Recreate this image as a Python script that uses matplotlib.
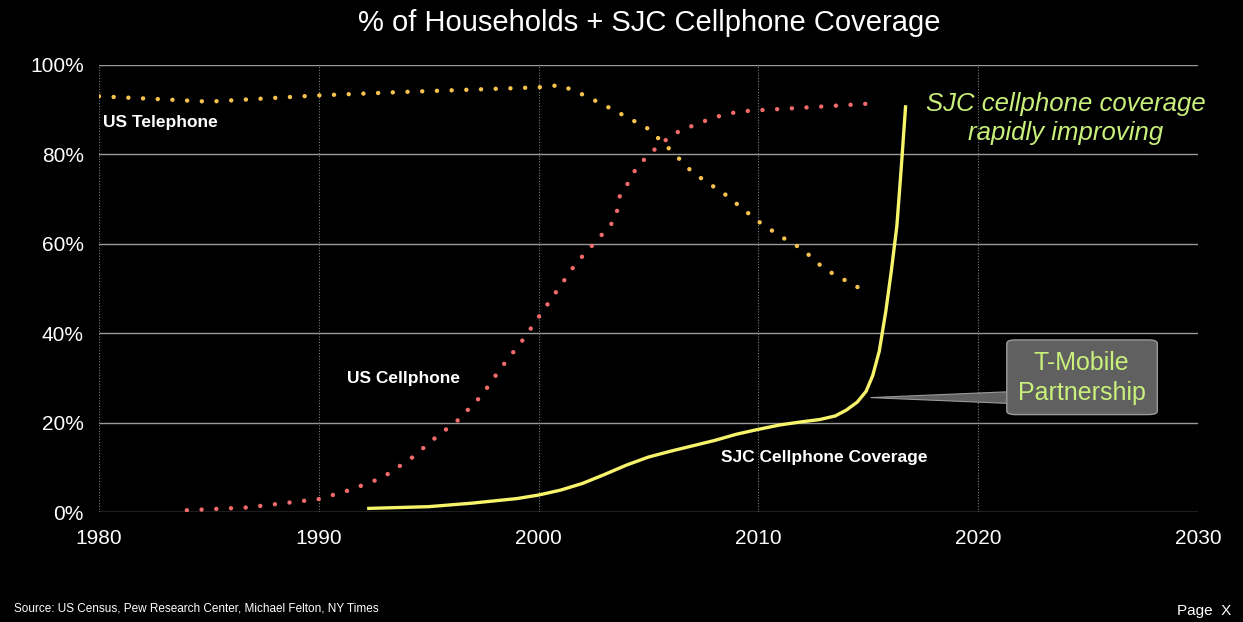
import matplotlib
matplotlib.use("Agg")
import matplotlib.pyplot as plt
from matplotlib.patches import FancyBboxPatch, Polygon

plt.rcParams['font.family'] = ['Liberation Sans', 'DejaVu Sans']

# US landline telephone households (%)
tel_years = [1980, 1983, 1985, 1990, 1994, 2000, 2001, 2002, 2003, 2004, 2005,
             2006, 2007, 2008.5, 2010, 2011, 2012, 2013, 2014, 2015]
tel_pct = [93, 92.3, 91.8, 93.2, 94, 95, 95.5, 93.4, 91, 88.4, 85.7,
           81, 76, 71, 65, 61.7, 58.8, 54.4, 51.7, 49]

# US cellphone households (%)
cell_years = [1984, 1986.7, 1988.8, 1990, 1991.4, 1992.9, 1994.2, 1995.4, 1996.3,
              1997.4, 1998.3, 1999.3, 2000.2, 2001.7, 2002.8, 2003.5, 2003.7, 2004,
              2004.5, 2005.3, 2006.1, 2007, 2008, 2009.1, 2010.1, 2012.2, 2015.5]
cell_pct = [0.4, 1, 2.2, 2.9, 4.9, 7.7, 12, 17, 20.4,
            26, 32.3, 38.6, 45, 55.6, 61.6, 65.5, 70.8, 73,
            77.4, 81.2, 84.5, 86.4, 88.3, 89.6, 89.9, 90.5, 91.5]

# SJC cellphone coverage (%)
sjc_years = [1992.2, 1995, 1997, 1999, 2000, 2001, 2002, 2003, 2004, 2005, 2006,
             2007, 2008, 2009, 2010, 2011, 2012, 2012.8, 2013.5, 2014, 2014.5,
             2014.9, 2015.2, 2015.5, 2015.8, 2016.05, 2016.3, 2016.5, 2016.7]
sjc_pct = [0.8, 1.2, 2.0, 3.0, 3.8, 4.9, 6.4, 8.4, 10.5, 12.3, 13.6,
           14.8, 16.0, 17.4, 18.5, 19.5, 20.2, 20.7, 21.5, 22.8, 24.6,
           27.0, 30.5, 36, 45, 54, 64, 77, 91]

x_ticks = [1980, 1990, 2000, 2010, 2020, 2030]
y_ticks = [0, 20, 40, 60, 80, 100]

fig = plt.figure(figsize=(12.43, 6.22), dpi=100, facecolor='black')
ax = fig.add_axes([0.0796, 0.1768, 0.8842, 0.7187])
ax.set_facecolor('black')

ax.set_xlim(1980, 2030)
ax.set_ylim(0, 100)
ax.set_xticks(x_ticks)
ax.set_yticks(y_ticks)
ax.set_xticklabels([str(t) for t in x_ticks], color='white', fontsize=15)
ax.set_yticklabels([f'{t}%' for t in y_ticks], color='white', fontsize=15)
ax.tick_params(axis='x', length=0, pad=12)
ax.tick_params(axis='y', length=0, pad=11)

for s in ax.spines.values():
    s.set_visible(False)
for y in y_ticks:
    ax.axhline(y, color='#9a9a9a', lw=1.0, zorder=1)
for x in x_ticks:
    ax.axvline(x, color='#7a7a7a', lw=0.8, ls=(0, (1, 1.5)), zorder=1)

lw_dot = 3.2
ax.plot(tel_years, tel_pct, color='#f7c24e', lw=lw_dot, ls=(0, (0.01, 3.3)),
        dash_capstyle='round', zorder=3)
ax.plot(cell_years, cell_pct, color='#f46b6b', lw=lw_dot, ls=(0, (0.01, 3.3)),
        dash_capstyle='round', zorder=3)
ax.plot(sjc_years, sjc_pct, color='#f7f36a', lw=2.4, solid_capstyle='butt', zorder=4)

ax.text(1980.2, 87.2, 'US Telephone', color='white', fontsize=12.5, fontweight='bold',
        ha='left', va='center')
ax.text(1991.3, 29.8, 'US Cellphone', color='white', fontsize=12.5, fontweight='bold',
        ha='left', va='center')
ax.text(2008.3, 12.2, 'SJC Cellphone Coverage', color='white', fontsize=12.5,
        fontweight='bold', ha='left', va='center')

ax.text(2024.0, 88.0, 'SJC cellphone coverage\nrapidly improving', color='#c8f07a',
        fontsize=18.5, style='italic', ha='center', va='center', linespacing=1.25)

# callout box
box = FancyBboxPatch((2021.3, 21.8), 6.85, 16.7, boxstyle='round,pad=0,rounding_size=0.4',
                     facecolor='#606060', edgecolor='#9a9a9a', lw=1.0, zorder=5,
                     mutation_aspect=2.0)
ax.add_patch(box)
ax.add_patch(Polygon([[2021.35, 26.9], [2021.35, 24.3], [2015.1, 25.6]], closed=True,
                     facecolor='#606060', edgecolor='#9a9a9a', lw=0.8, zorder=4))
ax.text(2024.7, 30.0, 'T-Mobile\nPartnership', color='#c8f07a', fontsize=18,
        ha='center', va='center', linespacing=1.35, zorder=6)

fig.text(0.522, 0.963, '% of Households + SJC Cellphone Coverage', color='white',
         fontsize=21, ha='center', va='center')
fig.text(0.011, 0.022, 'Source: US Census, Pew Research Center, Michael Felton, NY Times',
         color='white', fontsize=8.5, ha='left', va='center')
fig.text(0.947, 0.018, 'Page  X', color='white', fontsize=11, ha='left', va='center')

fig.savefig('out.png', dpi=100, facecolor='black')
